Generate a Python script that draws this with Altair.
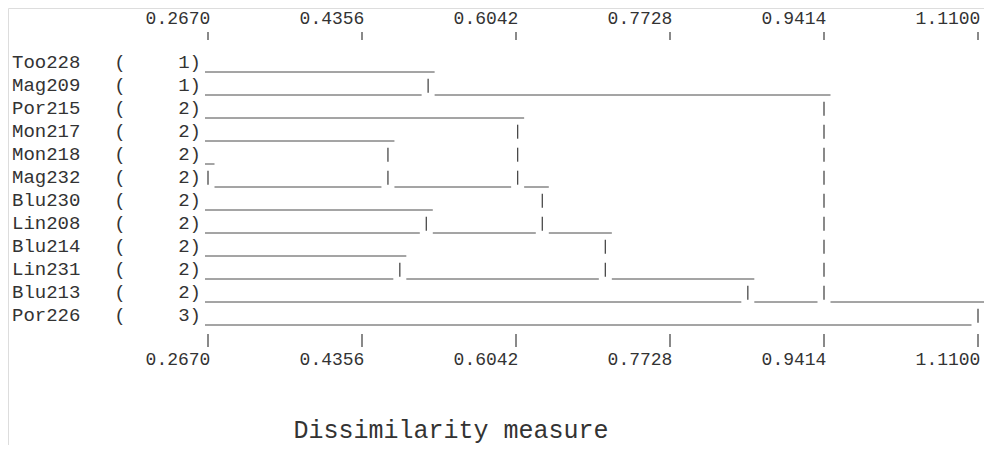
import altair as alt
import pandas as pd

# ---------------- data ----------------
names = ["Too228", "Mag209", "Por215", "Mon217", "Mon218", "Mag232",
         "Blu230", "Lin208", "Blu214", "Lin231", "Blu213", "Por226"]
groups = [1, 1, 2, 2, 2, 2, 2, 2, 2, 2, 2, 3]

# each merge joins the cluster whose bottom row is merge_upper with the
# cluster whose bottom row is merge_lower, at dissimilarity merge_level
merge_upper = ["Mon218", "Mon217", "Blu214", "Blu230", "Too228", "Por215",
               "Mag232", "Lin208", "Lin231", "Mag209", "Blu213"]
merge_lower = ["Mag232", "Mag232", "Lin231", "Lin208", "Mag209", "Mag232",
               "Lin208", "Lin231", "Blu213", "Blu213", "Por226"]
merge_level = [0.2670, 0.4640, 0.4770, 0.5060, 0.5080, 0.6060,
               0.6330, 0.7020, 0.8580, 0.9414, 1.1100]

tick_values = [0.2670, 0.4356, 0.6042, 0.7728, 0.9414, 1.1100]
tick_labels = ["0.2670", "0.4356", "0.6042", "0.7728", "0.9414", "1.1100"]
x_title = "Dissimilarity measure"

# ---------------- layout constants ----------------
W, H = 976, 437
AX_MIN, AX_MAX = tick_values[0], tick_values[-1]
X_MIN_PX, X_MAX_PX = 200, 970
PPU = (X_MAX_PX - X_MIN_PX) / (AX_MAX - AX_MIN)          # pixels per unit
x_dom = [AX_MIN - X_MIN_PX / PPU, AX_MIN + (W - X_MIN_PX) / PPU]

ROW0_PX, ROW_PX = 53.7, 23.0
y_dom = [-ROW0_PX / ROW_PX, (H - ROW0_PX) / ROW_PX]

GAP = 6.5 / PPU
LEAF_START = AX_MIN - 3 / PPU
UNDER = 10.3 / ROW_PX
BAR_TOP, BAR_BOT = -6 / ROW_PX, 8 / ROW_PX

xs = alt.Scale(domain=x_dom, nice=False, zero=False)
ys = alt.Scale(domain=y_dom, nice=False, zero=False, reverse=True)

FONT = "Liberation Mono"
INK = "#333333"
LINE = "#4a4a4a"

# ---------------- build dendrogram segments ----------------
row_of = {n: i for i, n in enumerate(names)}
start = {i: LEAF_START for i in range(len(names))}
h_rows = []
v_rows = []
order = sorted(range(len(merge_level)), key=lambda k: merge_level[k])
root = max(range(len(merge_level)), key=lambda k: merge_level[k])
for k in order:
    u, l, h = row_of[merge_upper[k]], row_of[merge_lower[k]], merge_level[k]
    if h + GAP > start[u]:
        h_rows.append({"x1": start[u], "x2": h + GAP, "y": u + UNDER})
    if h - GAP > start[l]:
        h_rows.append({"x1": start[l], "x2": h - GAP, "y": l + UNDER})
    if k != root:
        start[l] = h + GAP
    for r in range(u + 1, l + 1):
        v_rows.append({"x": h, "y1": r + BAR_TOP, "y2": r + BAR_BOT})

hdf = pd.DataFrame(h_rows)
vdf = pd.DataFrame(v_rows)
ldf = pd.DataFrame({
    "name": names,
    "row": list(range(len(names))),
    "paren": ["("] * len(names),
    "grp": [f"{g})" for g in groups],
})
tdf = pd.DataFrame({"value": tick_values, "label": tick_labels})
title_df = pd.DataFrame({"t": [x_title]})

# ---------------- layers ----------------
hlines = alt.Chart(hdf).mark_rule(color=LINE, strokeWidth=1).encode(
    x=alt.X("x1:Q", scale=xs, axis=None),
    x2="x2:Q",
    y=alt.Y("y:Q", scale=ys, axis=None),
)
vlines = alt.Chart(vdf).mark_rule(color=LINE, strokeWidth=1.3).encode(
    x=alt.X("x:Q", scale=xs, axis=None),
    y=alt.Y("y1:Q", scale=ys, axis=None),
    y2="y2:Q",
)
name_txt = alt.Chart(ldf).mark_text(font=FONT, fontSize=19, align="left",
                                    baseline="middle", color=INK).encode(
    x=alt.value(4),
    y=alt.Y("row:Q", scale=ys, axis=None),
    text="name:N",
)
paren_txt = alt.Chart(ldf).mark_text(font=FONT, fontSize=19, align="center",
                                     baseline="middle", color=INK).encode(
    x=alt.value(112),
    y=alt.Y("row:Q", scale=ys, axis=None),
    text="paren:N",
)
grp_txt = alt.Chart(ldf).mark_text(font=FONT, fontSize=19, align="right",
                                   baseline="middle", color=INK).encode(
    x=alt.value(193),
    y=alt.Y("row:Q", scale=ys, axis=None),
    text="grp:N",
)
top_ticks = alt.Chart(tdf).mark_rule(color=LINE, strokeWidth=1.3).encode(
    x=alt.X("value:Q", scale=xs, axis=None),
    y=alt.value(24), y2=alt.value(32),
)
bot_ticks = alt.Chart(tdf).mark_rule(color=LINE, strokeWidth=1.3).encode(
    x=alt.X("value:Q", scale=xs, axis=None),
    y=alt.value(326), y2=alt.value(339),
)
top_lab = alt.Chart(tdf).mark_text(font=FONT, fontSize=18, align="center",
                                   baseline="middle", dx=-30, color=INK).encode(
    x=alt.X("value:Q", scale=xs, axis=None),
    y=alt.value(10.5),
    text="label:N",
)
bot_lab = alt.Chart(tdf).mark_text(font=FONT, fontSize=18, align="center",
                                   baseline="middle", dx=-30, color=INK).encode(
    x=alt.X("value:Q", scale=xs, axis=None),
    y=alt.value(352),
    text="label:N",
)
title_txt = alt.Chart(title_df).mark_text(font=FONT, fontSize=25, align="center",
                                          baseline="middle", color=INK).encode(
    x=alt.value(443),
    y=alt.value(422),
    text="t:N",
)

chart = alt.layer(
    hlines, vlines, name_txt, paren_txt, grp_txt,
    top_ticks, bot_ticks, top_lab, bot_lab, title_txt,
).properties(
    width=W, height=H,
    autosize=alt.AutoSizeParams(type="none"),
    padding=0,
).configure_view(stroke=None).configure(background="white")

chart.save("out.html", embed_options={"renderer": "svg", "actions": False})
